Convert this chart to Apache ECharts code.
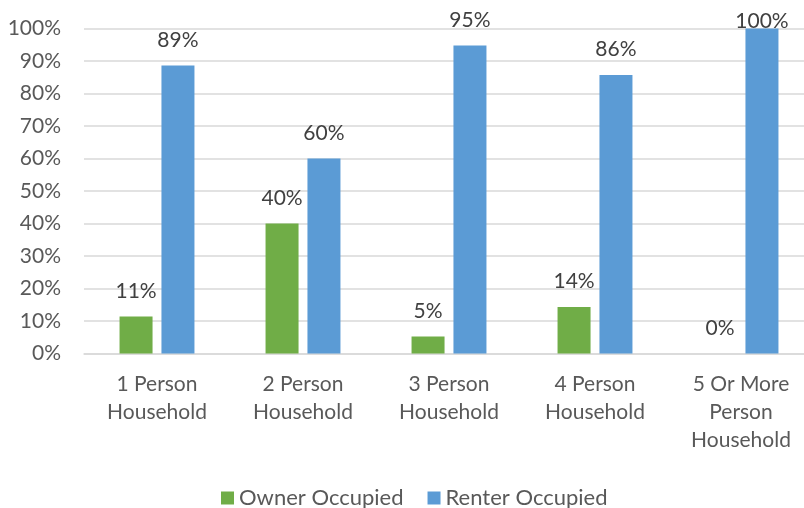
<!DOCTYPE html>
<html>
<head>
<meta charset="utf-8">
<script src="https://cdn.jsdelivr.net/npm/echarts@6/dist/echarts.min.js"></script>
<style>html,body{margin:0;padding:0;background:#fff;overflow:hidden}#c{width:814px;height:508px}</style>
</head>
<body>
<div id="c"></div>
<script>
const categories = ["1 Person\nHousehold", "2 Person\nHousehold", "3 Person\nHousehold", "4 Person\nHousehold", "5 Or More\nPerson\nHousehold"];
const ownerOccupied = [11.4, 40, 5.2, 14.3, 0];
const renterOccupied = [88.6, 60, 94.8, 85.7, 100];
const seriesNames = ["Owner Occupied", "Renter Occupied"];

const FONT = "Lato";
const chart = echarts.init(document.getElementById('c'), null, {renderer: 'canvas'});
const labelCfg = {
  show: true, position: 'top', distance: 15,
  fontFamily: FONT, fontSize: 21, color: '#404040',
  formatter: p => Math.round(p.value) + '%'
};
// labels at the very top of the plot sit closer to the bar so they fit
const withTopFit = arr => arr.map(v => v >= 100 ? {value: v, label: {distance: -3}} : v);
chart.setOption({
  animation: false,
  textStyle: {fontFamily: FONT},
  grid: {left: 84, right: 0, top: 28.5, bottom: 154.5, containLabel: false},
  legend: {
    data: seriesNames, top: 482, left: 216,
    itemWidth: 13, itemHeight: 13, itemGap: 24,
    icon: 'rect',
    textStyle: {fontFamily: FONT, fontSize: 22, color: '#595959'}
  },
  xAxis: {
    type: 'category', data: categories,
    axisLine: {show: true, lineStyle: {color: '#D9D9D9', width: 1.5}},
    axisTick: {show: false},
    axisLabel: {fontFamily: FONT, fontSize: 21, color: '#595959', lineHeight: 28, margin: 17, interval: 0}
  },
  yAxis: {
    type: 'value', min: 0, max: 100, interval: 10,
    axisLine: {show: false}, axisTick: {show: false},
    splitLine: {lineStyle: {color: '#D9D9D9', width: 1.5}},
    axisLabel: {fontFamily: FONT, fontSize: 21, color: '#595959', margin: 23, formatter: v => v + '%'}
  },
  series: [
    {name: seriesNames[0], type: 'bar', data: withTopFit(ownerOccupied), barWidth: 33, barGap: '27%',
     itemStyle: {color: '#70AD47'}, label: labelCfg},
    {name: seriesNames[1], type: 'bar', data: withTopFit(renterOccupied), barWidth: 33, barGap: '27%',
     itemStyle: {color: '#5B9BD5'}, label: labelCfg}
  ]
});
</script>
</body>
</html>
